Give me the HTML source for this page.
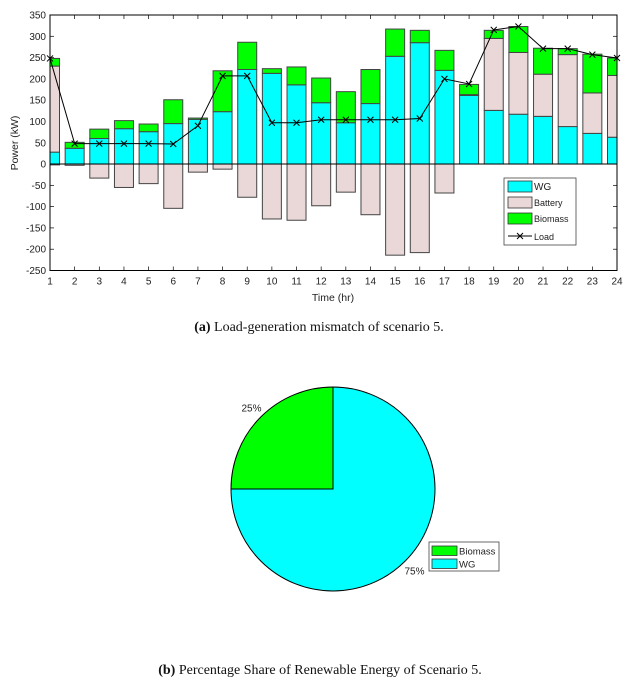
<!DOCTYPE html>
<html><head><meta charset="utf-8"><style>
html,body{margin:0;padding:0;background:#fff;width:631px;height:682px;overflow:hidden}
svg{display:block}
</style></head><body>
<svg id="c" width="631" height="682" xmlns="http://www.w3.org/2000/svg" font-family="Liberation Sans, sans-serif">
</svg>
<script>
const hours=[1,2,3,4,5,6,7,8,9,10,11,12,13,14,15,16,17,18,19,20,21,22,23,24];
const wg=[28,37,60,83,76,95,105,123,222,213,186,144,97,142,253,285,220,161,126,117,112,88,72,63];
const batteryPos=[202,0,0,0,0,0,0,0,0,0,0,0,0,0,0,0,0,2,169,145,99,169,95,145];
const biomass=[18,14,22,19,18,56,3,96,64,11,42,58,73,80,64,29,47,24,19,61,61,14,91,41];
const batteryNeg=[-2,-3,-33,-55,-46,-104,-19,-12,-78,-129,-132,-98,-66,-119,-214,-208,-68,0,0,0,0,0,0,0];
const load=[248,48,48,48,48,47,90,207,207,97,97,104,104,104,104,107,200,188,315,323,271,271,257,249];
const yTicks=[350,300,250,200,150,100,50,0,-50,-100,-150,-200,-250];
const pieLabels=["Biomass","WG"];
const pieValues=[25,75];

const svg=document.getElementById('c');
const NS='http://www.w3.org/2000/svg';
function mk(t,a,p){const e=document.createElementNS(NS,t);for(const k in a)e.setAttribute(k,a[k]);(p||svg).appendChild(e);return e;}
const L=50,R=617,T=15,B=270.5;
const xS=h=>L+(h-1)*(R-L)/23;
const yS=v=>T+(350-v)*(B-T)/600;
const bw=19;
const g=mk('g',{});


// ticks
yTicks.forEach(v=>{
 const y=yS(v);
 const ln=mk('line',{x1:L,x2:L+4,y1:y,y2:y,stroke:'#000','stroke-width':0.7},g);
 
 mk('line',{x1:R-4,x2:R,y1:y,y2:y,stroke:'#000','stroke-width':0.7},g);
 const t=mk('text',{x:L-4,y:y+3.5,'font-size':10,'text-anchor':'end',fill:'#222'},g);
 t.textContent=v;
 
});
hours.forEach(h=>{
 const x=xS(h);
 mk('line',{x1:x,x2:x,y1:B,y2:B-4,stroke:'#000','stroke-width':0.7},g);
 mk('line',{x1:x,x2:x,y1:T,y2:T+4,stroke:'#000','stroke-width':0.7},g);
 const t=mk('text',{x:x,y:B+14,'font-size':10,'text-anchor':'middle',fill:'#222'},g);
 t.textContent=h;
 
});
// bars
hours.forEach((h,i)=>{
 const x=xS(h)-bw/2, clipX=Math.max(x,L), w=Math.min(x+bw,R)-clipX;
 const segs=[[0,wg[i],'#00ffff','bar-wg'],[wg[i],wg[i]+batteryPos[i],'#ead8d8','bar-battery'],[wg[i]+batteryPos[i],wg[i]+batteryPos[i]+biomass[i],'#00ff00','bar-biomass'],[batteryNeg[i],0,'#ead8d8','bar-battery-neg']];
 segs.forEach(s=>{
  if(s[1]-s[0]<=0)return;
  const r=mk('rect',{x:clipX,y:yS(s[1]),width:w,height:yS(s[0])-yS(s[1]),fill:s[2],stroke:'#444','stroke-width':1},g);
  
 });
});
mk('line',{x1:L,x2:R,y1:yS(0),y2:yS(0),stroke:'#000','stroke-width':1},g);
// load line
const pl=mk('polyline',{points:hours.map((h,i)=>xS(h)+','+yS(load[i])).join(' '),fill:'none',stroke:'#000','stroke-width':1},g);

hours.forEach((h,i)=>{
 const x=xS(h),y=yS(load[i]);
 const m=mk('path',{d:`M${x-3},${y-3}L${x+3},${y+3}M${x-3},${y+3}L${x+3},${y-3}`,stroke:'#000','stroke-width':1},g);
 
});
const fr=mk('rect',{x:L,y:T,width:R-L,height:B-T,fill:'none',stroke:'#000','stroke-width':1},g);

let t=mk('text',{x:333,y:301,'font-size':10.5,'text-anchor':'middle',fill:'#222'},g);t.textContent='Time (hr)';

t=mk('text',{x:18,y:143,'font-size':10.5,'text-anchor':'middle',fill:'#222',transform:'rotate(-90 18 143)'},g);t.textContent='Power (kW)';

// legend
const lg=mk('g',{},g);

mk('rect',{x:504,y:178,width:72,height:67,fill:'#fff',stroke:'#444','stroke-width':0.8},lg);
[['WG','#00ffff',186],['Battery','#ead8d8',202],['Biomass','#00ff00',218]].forEach(e=>{
 const r=mk('rect',{x:508,y:e[2]-5,width:24,height:11,fill:e[1],stroke:'#333','stroke-width':0.8},lg);
 
 const tt=mk('text',{x:534,y:e[2]+4,'font-size':e[0]=='WG'?10:9,fill:'#222'},lg);tt.textContent=e[0];
 
});
mk('line',{x1:508,x2:532,y1:236,y2:236,stroke:'#000'},lg);
mk('path',{d:'M517,233L523,239M517,239L523,233',stroke:'#000'},lg);
t=mk('text',{x:534,y:240,'font-size':9,fill:'#222'},lg);t.textContent='Load';

// caption a
t=mk('text',{x:319,y:331,'font-size':14,'text-anchor':'middle','font-family':'Liberation Serif, serif',fill:'#111'});
t.innerHTML='<tspan font-weight="bold">(a)</tspan> Load-generation mismatch of scenario 5.';

// pie
const pg=mk('g',{});

const cx=333,cy=489,rr=102,cols=['#00ff00','#00ffff'];
const total=pieValues.reduce((a,b)=>a+b,0);
let ang=0;
pieValues.forEach((v,i)=>{
 const a0=ang,a1=ang+v/total*2*Math.PI;ang=a1;
 // counterclockwise from 12 o'clock
 const p=a=>[cx-rr*Math.sin(a),cy-rr*Math.cos(a)];
 const s=p(a0),e=p(a1),large=(a1-a0)>Math.PI?1:0;
 const path=mk('path',{d:`M${cx},${cy}L${s[0]},${s[1]}A${rr},${rr} 0 ${large} 0 ${e[0]},${e[1]}Z`,fill:cols[i],stroke:'#000','stroke-width':1},pg);
 
 const mid=(a0+a1)/2, lr=rr*1.13;
 const tx=mk('text',{x:cx-lr*Math.sin(mid),y:cy-lr*Math.cos(mid)+4,'font-size':10,'text-anchor':'middle',fill:'#222'},pg);
 tx.textContent=Math.round(v/total*100)+'%';
 
});
const pl2=mk('g',{},pg);

mk('rect',{x:429,y:542,width:70,height:29,fill:'#fff',stroke:'#444','stroke-width':0.8},pl2);
pieLabels.forEach((lab,i)=>{
 const y=546+i*13;
 mk('rect',{x:432,y:y,width:25,height:9.5,fill:cols[i],stroke:'#333','stroke-width':0.8},pl2);
 const tx=mk('text',{x:459,y:y+8.5,'font-size':9.5,fill:'#222'},pl2);tx.textContent=lab;
 
});
t=mk('text',{x:320,y:674,'font-size':14,'text-anchor':'middle','font-family':'Liberation Serif, serif',fill:'#111'});
t.innerHTML='<tspan font-weight="bold">(b)</tspan> Percentage Share of Renewable Energy of Scenario 5.';

</script>
</body></html>
